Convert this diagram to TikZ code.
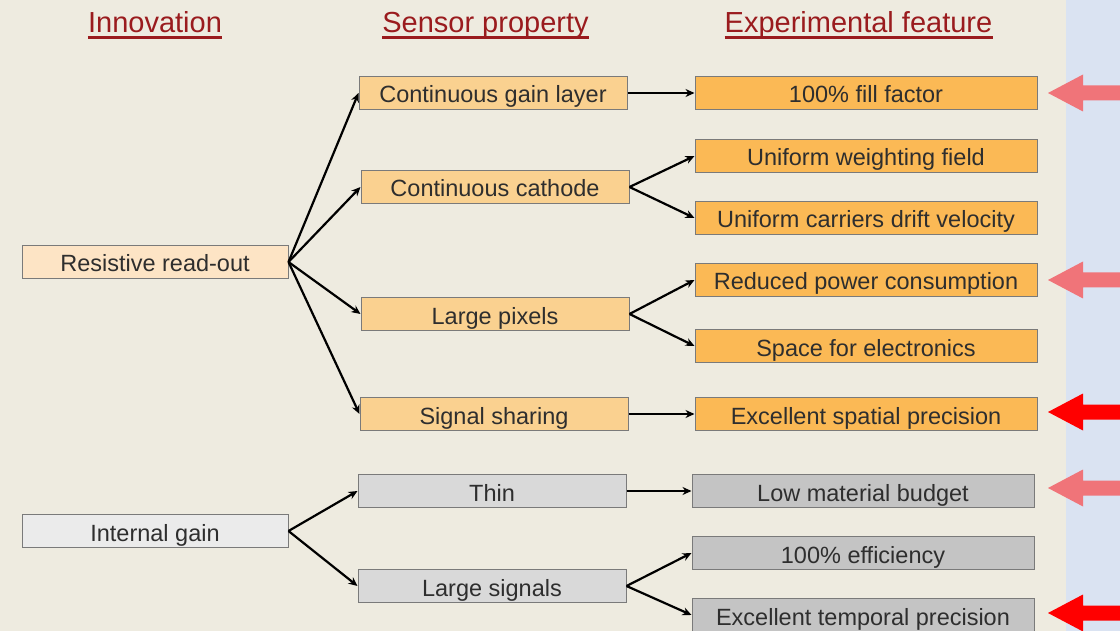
\documentclass[tikz,border=0pt]{standalone}
\usepackage{fontspec}
\setmainfont{Liberation Sans}
\usetikzlibrary{arrows.meta}
\definecolor{bgbeige}{HTML}{EEEBE0}
\definecolor{bgblue}{HTML}{DAE3F2}
\definecolor{hdred}{HTML}{9A1B1E}
\definecolor{txtgray}{HTML}{2E2E2E}
\definecolor{edgegray}{HTML}{7A7A7A}
\definecolor{peachA}{HTML}{FDE4C5}
\definecolor{peachB}{HTML}{FAD190}
\definecolor{peachC}{HTML}{FBB955}
\definecolor{grayA}{HTML}{EBEBEB}
\definecolor{grayB}{HTML}{D9D9D9}
\definecolor{grayC}{HTML}{C4C4C4}
\definecolor{pinkarrow}{HTML}{F07479}
\definecolor{redarrow}{HTML}{FF0000}
\tikzset{
  box/.style={draw=edgegray, line width=1pt, inner sep=0pt, minimum height=33pt,
    text height=21pt, text depth=1pt,
    text=txtgray, font=\fontsize{23.5}{26}\selectfont},
  colA/.style={box, minimum width=266pt},
  colB/.style={box, minimum width=268pt},
  colC/.style={box, minimum width=342pt},
  hdr/.style={text=hdred, inner sep=0pt, anchor=base, font=\fontsize{29}{32}\selectfont},
  uline/.style={draw=hdred, line width=2.5pt},
  conn/.style={draw=black, line width=2.2pt, -{Stealth[length=9pt,width=8pt]}},
}
\newcommand{\blockarrow}[2]{%
  \fill[#2] (1048,#1) -- (1083,#1-18.5) -- (1083,#1-7.5) -- (1125,#1-7.5)
    -- (1125,#1+7.5) -- (1083,#1+7.5) -- (1083,#1+18.5) -- cycle;}
\begin{document}
\begin{tikzpicture}[x=1pt,y=-1pt]
\useasboundingbox (0,0) rectangle (1120,631);
\fill[bgbeige] (0,0) rectangle (1120,631);
\fill[bgblue] (1066,0) rectangle (1120,631);

% headers
\node[hdr] (hinn) at (155,33) {Innovation};
\node[hdr] (hsen) at (485.5,33) {Sensor property};
\node[hdr] (hexp) at (858.5,33) {Experimental feature};
\draw[uline] ([yshift=-4.5pt]hinn.base west) -- ([yshift=-4.5pt]hinn.base east);
\draw[uline] ([yshift=-4.5pt]hsen.base west) -- ([yshift=-4.5pt]hsen.base east);
\draw[uline] ([yshift=-4.5pt]hexp.base west) -- ([yshift=-4.5pt]hexp.base east);

% column 1
\node[colA, fill=peachA] (rro) at (155,262) {Resistive read-out};
\node[colA, fill=grayA] (ig) at (155,531) {Internal gain};

% column 2
\node[colB, fill=peachB] (cgl) at (493,93) {Continuous gain layer};
\node[colB, fill=peachB] (cc) at (495,187) {Continuous cathode};
\node[colB, fill=peachB] (lp) at (495,314) {Large pixels};
\node[colB, fill=peachB] (ss) at (494,414) {Signal sharing};
\node[colB, fill=grayB] (thin) at (492,491) {Thin};
\node[colB, fill=grayB] (ls) at (492,586) {Large signals};

% column 3
\node[colC, fill=peachC] (ff) at (866,93) {100\% fill factor};
\node[colC, fill=peachC] (uwf) at (866,156) {Uniform weighting field};
\node[colC, fill=peachC] (ucd) at (866,218) {Uniform carriers drift velocity};
\node[colC, fill=peachC] (rpc) at (866,280) {Reduced power consumption};
\node[colC, fill=peachC] (sfe) at (866,346) {Space for electronics};
\node[colC, fill=peachC] (esp) at (866,414) {Excellent spatial precision};
\node[colC, fill=grayC] (lmb) at (863,491) {Low material budget};
\node[colC, fill=grayC] (eff) at (863,553) {100\% efficiency};
\node[colC, fill=grayC] (etp) at (863,615) {Excellent temporal precision};

% connectors
\draw[conn] (rro.east) -- (cgl.west);
\draw[conn] (rro.east) -- (cc.west);
\draw[conn] (rro.east) -- (lp.west);
\draw[conn] (rro.east) -- (ss.west);
\draw[conn] (cgl.east) -- (ff.west);
\draw[conn] (cc.east) -- (uwf.west);
\draw[conn] (cc.east) -- (ucd.west);
\draw[conn] (lp.east) -- (rpc.west);
\draw[conn] (lp.east) -- (sfe.west);
\draw[conn] (ss.east) -- (esp.west);
\draw[conn] (ig.east) -- (thin.west);
\draw[conn] (ig.east) -- (ls.west);
\draw[conn] (thin.east) -- (lmb.west);
\draw[conn] (ls.east) -- (eff.west);
\draw[conn] (ls.east) -- (etp.west);

% side arrows
\blockarrow{93}{pinkarrow}
\blockarrow{280}{pinkarrow}
\blockarrow{412}{redarrow}
\blockarrow{488}{pinkarrow}
\blockarrow{613}{redarrow}
\end{tikzpicture}
\end{document}
